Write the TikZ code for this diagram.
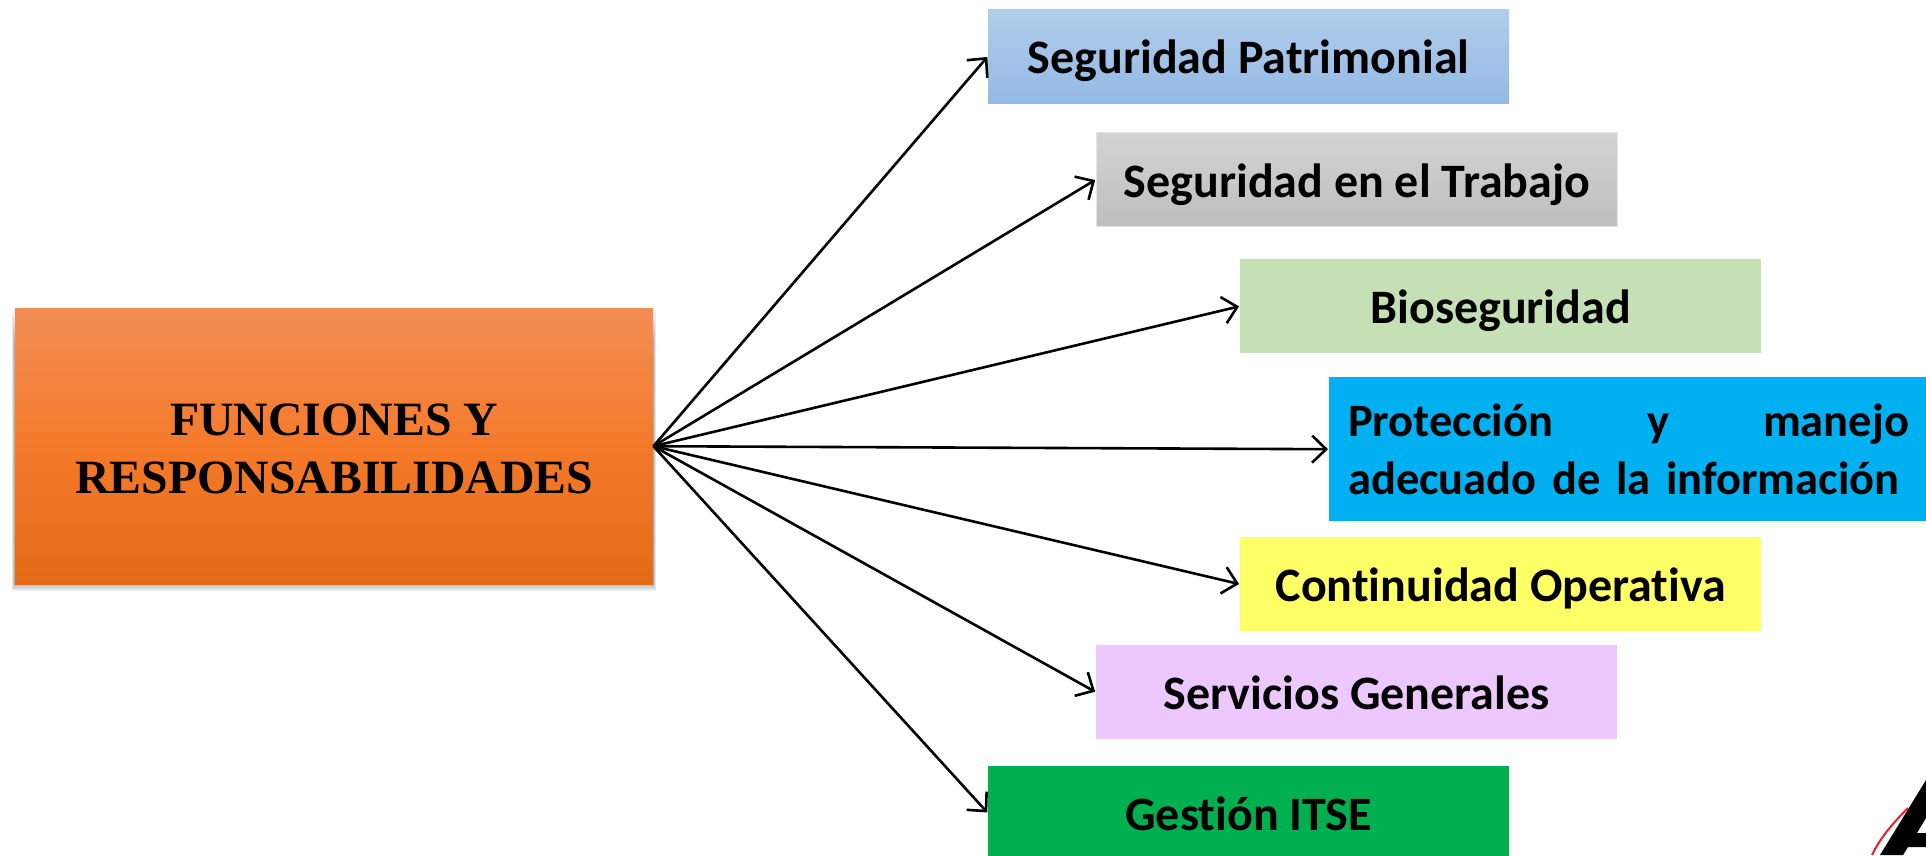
\documentclass[tikz,border=0pt]{standalone}
\usepackage{fontspec}
\setmainfont[Ligatures=NoCommon]{Carlito}
\newfontfamily\titlefont{Liberation Serif}
\usetikzlibrary{arrows.meta,calc}
\definecolor{bluetop}{HTML}{B1CDEB}
\definecolor{bluebot}{HTML}{94B9E3}
\definecolor{graytop}{HTML}{D3D3D3}
\definecolor{graybot}{HTML}{BEBEBE}
\definecolor{grayedge}{HTML}{E6E6E6}
\definecolor{greenlite}{HTML}{C5E0B4}
\definecolor{cyanbox}{HTML}{00B0F0}
\definecolor{yellowbox}{HTML}{FFFF66}
\definecolor{purplebox}{HTML}{ECC8FE}
\definecolor{greenbox}{HTML}{00B050}
\definecolor{oratop}{HTML}{F38D55}
\definecolor{oramid}{HTML}{F47A2A}
\definecolor{orabot}{HTML}{E56A17}
\definecolor{logored}{HTML}{EE1C25}
\tikzset{
  box/.style={anchor=north west,inner sep=0pt,minimum width=521pt,minimum height=94pt,
    font=\fontsize{48}{58}\selectfont\bfseries,align=center},
  oneline/.style={box,text height=39pt,text depth=4pt},
  link/.style={line width=2.6pt,-{Straight Barb[length=14pt,width=27pt,line width=2.6pt]},shorten >=1pt},
  halo/.style={fill=black,opacity=0.05,draw=none}
}
\begin{document}
\begin{tikzpicture}[x=1pt,y=-1pt]
\useasboundingbox (0,0) rectangle (1926,855);
\clip (0,0) rectangle (1926,855);
% soft shadow of the main box
\foreach \d in {1,2,...,8}{
  \fill[halo] (15-\d*0.4,352-\d*5) rectangle (653+\d*0.4,582+\d*1.1);
}
\node[box,minimum width=638pt,minimum height=276pt,top color=oratop,bottom color=orabot,middle color=oramid,
  font=\titlefont\fontsize{47.8}{58}\selectfont\bfseries] (main) at (15,308) {\rule{0pt}{38pt}FUNCIONES Y\\RESPONSABILIDADES};
\node[oneline,top color=bluetop,bottom color=bluebot] (patr) at (988,9) {Seguridad Patrimonial};
\node[oneline,top color=graytop,bottom color=graybot,draw=grayedge,line width=1pt] (trab) at (1096,132) {Seguridad en el Trabajo};
\node[oneline,fill=greenlite] (bio) at (1240,259) {Bioseguridad};
\node[box,fill=cyanbox,minimum width=597pt,minimum height=144pt,inner xsep=19pt,text width=561pt,align=left,
  font=\fontsize{46.5}{58}\selectfont\bfseries] (prot) at (1329,377)
  {Protección\hfill y\hfill manejo\\adecuado de la información};
\node[oneline,fill=yellowbox] (cont) at (1240,537) {Continuidad Operativa};
\node[oneline,fill=purplebox] (serv) at (1096,645) {Servicios Generales};
\node[oneline,fill=greenbox] (itse) at (988,766) {Gestión ITSE};
\foreach \t in {patr,trab,bio,prot,cont,serv,itse}{
  \draw[link] (main.east) -- (\t.west);
}
% corner of the logo, cut by the page edge
\fill[black] (1926,780) -- (1880,855) -- (1903,855) -- (1908,847) -- (1926,847) -- (1926,833) -- (1917,833) -- (1926,818) -- cycle;
\draw[logored,line width=2pt] (1908,808) .. controls (1893,823) and (1880,838) .. (1872,855);
\end{tikzpicture}
\end{document}
